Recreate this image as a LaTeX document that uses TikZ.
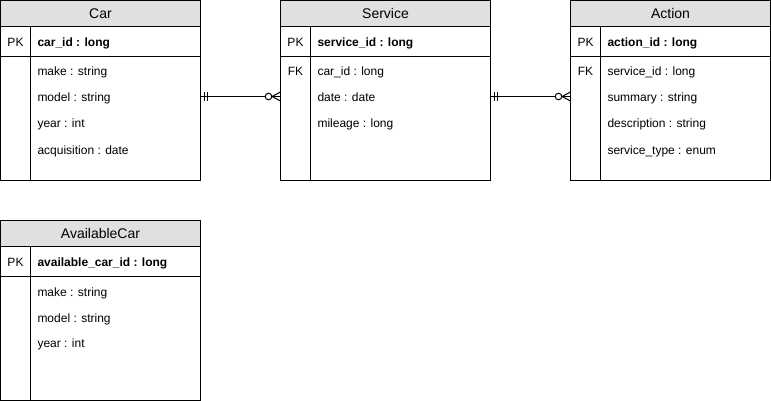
\documentclass[tikz,border=0pt]{standalone}
\usepackage{fontspec}
\setmainfont{Liberation Sans}
\begin{document}
\begin{tikzpicture}[x=1pt,y=-1pt,line width=1pt,
  tablebox/.style={draw=black,fill=white,anchor=north west,inner sep=0pt,outer sep=0pt,minimum height=180pt},
  headbox/.style={draw=black,fill=black!12,anchor=north west,inner sep=0pt,outer sep=0pt,minimum height=26pt,font=\fontsize{14}{16}\selectfont},
  keytxt/.style={anchor=base,inner sep=0pt,font=\fontsize{12}{14}\selectfont},
  fieldtxt/.style={anchor=base west,inner sep=0pt,font=\fontsize{12}{14}\selectfont},
  pktxt/.style={anchor=base west,inner sep=0pt,font=\fontsize{12}{14}\selectfont\bfseries},
  rel/.style={draw=black,line width=1pt}]
\useasboundingbox (0,0) rectangle (771,401);

% ---------- Car ----------
\node[tablebox,minimum width=200pt] (car) at (0.5,0.5) {};
\node[headbox,minimum width=200pt] (carh) at (0.5,0.5) {Car};
\draw (car.west |- 0,56.5) -- (car.east |- 0,56.5);
\draw (30.5,26.5) -- (30.5,180.5);
\node[keytxt] (carpk) at (15.5,46.5) {PK};
\node[pktxt] (carid) at (37,46.5) {car\_id : long};
\node[fieldtxt] (carmake) at (37,76) {make : string};
\node[fieldtxt] (carmodel) at (37,102) {model : string};
\node[fieldtxt] (caryear) at (37,127.5) {year : int};
\node[fieldtxt] (caracq) at (37,154) {acquisition : date};

% ---------- Service ----------
\node[tablebox,minimum width=210pt] (svc) at (280.5,0.5) {};
\node[headbox,minimum width=210pt] (svch) at (280.5,0.5) {Service};
\draw (svc.west |- 0,56.5) -- (svc.east |- 0,56.5);
\draw (310.5,26.5) -- (310.5,180.5);
\node[keytxt] (svcpk) at (295.5,46.5) {PK};
\node[pktxt] (svcid) at (317,46.5) {service\_id : long};
\node[keytxt] (svcfk) at (295.5,76) {FK};
\node[fieldtxt] (svccar) at (317,76) {car\_id : long};
\node[fieldtxt] (svcdate) at (317,102) {date : date};
\node[fieldtxt] (svcmil) at (317,127.5) {mileage : long};

% ---------- Action ----------
\node[tablebox,minimum width=200pt] (act) at (570.5,0.5) {};
\node[headbox,minimum width=200pt] (acth) at (570.5,0.5) {Action};
\draw (act.west |- 0,56.5) -- (act.east |- 0,56.5);
\draw (600.5,26.5) -- (600.5,180.5);
\node[keytxt] (actpk) at (585.5,46.5) {PK};
\node[pktxt] (actid) at (607,46.5) {action\_id : long};
\node[keytxt] (actfk) at (585.5,76) {FK};
\node[fieldtxt] (actsvc) at (607,76) {service\_id : long};
\node[fieldtxt] (actsum) at (607,102) {summary : string};
\node[fieldtxt] (actdesc) at (607,127.5) {description : string};
\node[fieldtxt] (acttype) at (607,154) {service\_type : enum};

% ---------- AvailableCar ----------
\node[tablebox,minimum width=200pt] (avc) at (0.5,220.5) {};
\node[headbox,minimum width=200pt] (avch) at (0.5,220.5) {AvailableCar};
\draw (avc.west |- 0,276.5) -- (avc.east |- 0,276.5);
\draw (30.5,246.5) -- (30.5,400.5);
\node[keytxt] (avcpk) at (15.5,266.5) {PK};
\node[pktxt] (avcid) at (37,266.5) {available\_car\_id : long};
\node[fieldtxt] (avcmake) at (37,296) {make : string};
\node[fieldtxt] (avcmodel) at (37,322) {model : string};
\node[fieldtxt] (avcyear) at (37,347.5) {year : int};

% ---------- relations ----------
\coordinate (r1a) at (car.east |- 0,96.5);
\coordinate (r1b) at (svc.west |- 0,96.5);
\draw[rel] (r1a) -- (r1b);
\draw[rel] ([xshift=4pt,yshift=-4.5pt]r1a) -- ([xshift=4pt,yshift=4.5pt]r1a);
\draw[rel] ([xshift=7pt,yshift=-4.5pt]r1a) -- ([xshift=7pt,yshift=4.5pt]r1a);
\draw[rel,fill=white] ([xshift=-12pt]r1b) circle (3.3pt);
\draw[rel] ([xshift=-8.5pt]r1b) -- ([yshift=-4.5pt]r1b);
\draw[rel] ([xshift=-8.5pt]r1b) -- ([yshift=4.5pt]r1b);

\coordinate (r2a) at (svc.east |- 0,96.5);
\coordinate (r2b) at (act.west |- 0,96.5);
\draw[rel] (r2a) -- (r2b);
\draw[rel] ([xshift=4pt,yshift=-4.5pt]r2a) -- ([xshift=4pt,yshift=4.5pt]r2a);
\draw[rel] ([xshift=7pt,yshift=-4.5pt]r2a) -- ([xshift=7pt,yshift=4.5pt]r2a);
\draw[rel,fill=white] ([xshift=-12pt]r2b) circle (3.3pt);
\draw[rel] ([xshift=-8.5pt]r2b) -- ([yshift=-4.5pt]r2b);
\draw[rel] ([xshift=-8.5pt]r2b) -- ([yshift=4.5pt]r2b);
\end{tikzpicture}
\end{document}
